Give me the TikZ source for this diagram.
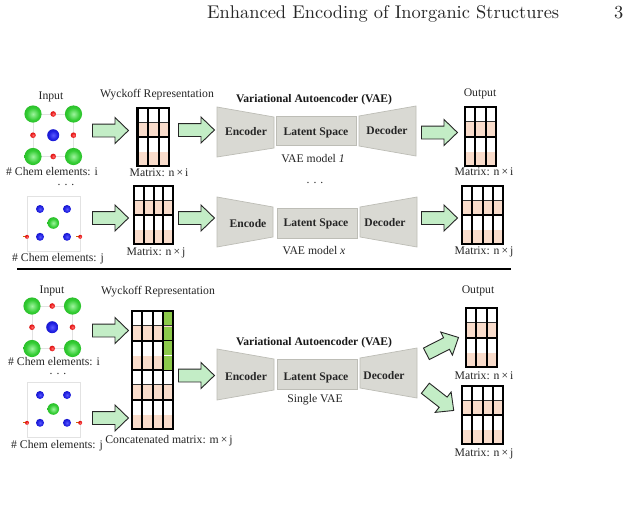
\documentclass[tikz,border=0pt]{standalone}
\usepackage{fontspec}
\setmainfont{Liberation Serif}
\newfontfamily\headfont[Extension=.otf]{lmroman10-regular}
\usetikzlibrary{shapes.arrows}

\definecolor{peach}{HTML}{F9DCCB}
\definecolor{limecell}{HTML}{8CC94A}
\definecolor{arrowfill}{HTML}{C3EDC6}
\definecolor{blockfill}{HTML}{D9D9D3}
\definecolor{blockedge}{HTML}{BDBDB6}
\definecolor{framegrey}{HTML}{E2E2E2}

% Sphere shadings for the three atom species
\pgfdeclareradialshading{greenball}{\pgfpointorigin}{%
  rgb(0bp)=(0.62,0.96,0.62); rgb(18bp)=(0.2,0.8,0.2);
  rgb(40bp)=(0.1,0.66,0.1); rgb(50bp)=(0.05,0.45,0.05)}
\pgfdeclareradialshading{blueball}{\pgfpointorigin}{%
  rgb(0bp)=(0.35,0.35,1); rgb(18bp)=(0.12,0.12,0.88);
  rgb(40bp)=(0.06,0.06,0.7); rgb(50bp)=(0.04,0.04,0.5)}
\pgfdeclareradialshading{redball}{\pgfpointorigin}{%
  rgb(0bp)=(1,0.45,0.45); rgb(18bp)=(0.92,0.1,0.1);
  rgb(40bp)=(0.8,0.05,0.05); rgb(50bp)=(0.6,0.02,0.02)}

\newcommand{\shaftstrut}{\rule{0pt}{12pt}}

\tikzset{
  x=1pt, y=-1pt,
  label text/.style={font=\fontsize{11.7}{12}\selectfont, inner sep=0pt, text=black!85, yshift=-1.3pt},
  dots text/.style={font=\fontsize{11.7}{12}\selectfont, inner sep=0pt, text=black!85, text height=1.5pt, text depth=0pt},
  title text/.style={font=\fontsize{11.6}{12}\selectfont\bfseries, inner sep=0pt, text=black!90, yshift=-1.3pt},
  block text/.style={font=\fontsize{11.6}{12}\selectfont\bfseries, inner sep=0pt, text=black!85, yshift=-1pt},
  head text/.style={font=\headfont\fontsize{18.4}{20}\selectfont, inner sep=0pt, text=black!85},
  blockshape/.style={fill=blockfill, draw=blockedge, line width=0.7pt, line join=miter},
  blockarrow/.style={single arrow, anchor=tail, draw=black!85, fill=arrowfill, line width=0.9pt,
    minimum height=36pt, inner sep=0pt,
    single arrow head extend=6.5pt, single arrow tip angle=88, single arrow head indent=0pt},
  gridline/.style={line width=2pt, draw=black},
  thingrid/.style={line width=0.8pt, draw=black!80},
  softgrid/.style={line width=0.6pt, draw=white},
  outerbox/.style={draw=black, line width=2.2pt, inner sep=0pt, fill=none},
  greenatom/.style={shading=greenball},
  blueatom/.style={shading=blueball},
  redatom/.style={shading=redball},
}

% Wyckoff matrix: #1 name, #2 left, #3 top, #4 right, #5 bottom, #6 columns, #7 rows
\newcommand{\wyckoffgrid}[7]{
  \pgfmathsetmacro{\cellw}{(#4-#2)/#6}
  \pgfmathsetmacro{\cellh}{(#5-#3)/#7}
  \fill[white] (#2,#3) rectangle (#4,#5);
  \foreach \r in {1,3,...,#7} {
    \fill[peach] (#2,{#3+\r*\cellh}) rectangle (#4,{#3+(\r+1)*\cellh});
  }
  \foreach \r/\sty in {1/thingrid,3/softgrid,5/thingrid,7/softgrid} {
    \ifnum\r<#7 \draw[\sty] (#2,{#3+\r*\cellh}) -- (#4,{#3+\r*\cellh}); \fi
  }
  \foreach \r in {2,4,...,#7} {
    \ifnum\r<#7 \draw[gridline] (#2,{#3+\r*\cellh}) -- (#4,{#3+\r*\cellh}); \fi
  }
  \foreach \c in {1,...,#6} {
    \ifnum\c<#6 \draw[gridline] ({#2+\c*\cellw},#3) -- ({#2+\c*\cellw},#5); \fi
  }
  \node[outerbox, minimum width={(#4-#2)*1pt}, minimum height={(#5-#3)*1pt}]
    (#1) at ({(#2+#4)/2},{(#3+#5)/2}) {};
}

% Rock-salt style cell with corner, centre and edge atoms
\newcommand{\cellA}[2]{
  \begin{scope}[shift={(#1,#2)}]
    \draw[framegrey, line width=1pt] (0,0) rectangle (40.5,42.5);
    \foreach \px/\py in {0/0,40.5/0,0/42.5,40.5/42.5}
      \shade[greenatom] (\px,\py) circle (8.6);
    \shade[blueatom] (20.2,21.2) circle (6);
    \foreach \px/\py in {20.2/0,0/21.2,40.5/21.2,20.2/42.5}
      \shade[redatom] (\px,\py) circle (2.8);
  \end{scope}
}

% Cell with a light frame, four blue atoms, a green centre and two red ligands
\newcommand{\cellB}[2]{
  \begin{scope}[shift={(#1,#2)}]
    \draw[framegrey, line width=0.7pt] (0,0) rectangle (53.5,55);
    \foreach \px/\py in {13/13,40/13,13/40.8,40/40.8}
      \shade[blueatom] (\px,\py) circle (4);
    \shade[greenatom] (26.3,27) circle (5.8);
    \draw[orange!80!black, line width=1pt] (-4,40.8) -- (0,40.8);
    \draw[orange!80!black, line width=1pt] (49,40.8) -- (53,40.8);
    \shade[redatom] (0,40.8) circle (2);
    \shade[redatom] (53.2,40.8) circle (2);
  \end{scope}
}

\begin{document}
\begin{tikzpicture}
\useasboundingbox (0,0) rectangle (630,520);
\fill[white] (0,0) rectangle (630,520);

% Running head
\node[head text, anchor=base west] (headline) at (207,18) {Enhanced Encoding of Inorganic Structures};
\node[head text, anchor=base west] (pageno) at (614,18) {3};

% Upper panel: one model per element count
\node[label text] (inA) at (51,96) {Input};
\node[label text] (wyA) at (157,93) {Wyckoff Representation};
\node[title text] (vaeA) at (314,98) {Variational Autoencoder (VAE)};
\node[label text] (outA) at (480,93) {Output};

\cellA{33}{114}
\node[label text] (chemA) at (52,170) {\# Chem elements: i};
\node[dots text] (dotsA) at (66,185) {. . .};
\cellB{27}{196}
\node[label text] (chemB) at (58,257) {\# Chem elements: j};

\wyckoffgrid{mA}{137.5}{108}{169}{166}{3}{4}
\wyckoffgrid{mB}{134}{186}{173}{244}{4}{4}
\node[label text] (mAl) at (159,171) {Matrix: n\,×\,i};
\node[label text] (mBl) at (156,252) {Matrix: n\,×\,j};

\node[blockarrow] (a1) at (92,130.5) {\shaftstrut};
\node[blockarrow] (a2) at (178,130) {\shaftstrut};
\node[blockarrow] (a3) at (421,132.5) {\shaftstrut};
\node[blockarrow] (a4) at (92,218) {\shaftstrut};
\node[blockarrow] (a5) at (178,218) {\shaftstrut};
\node[blockarrow] (a6) at (421,218) {\shaftstrut};

\draw[blockshape] (217,107) -- (274,117) -- (274,148) -- (217,157) -- cycle;
\draw[blockshape] (276,116) rectangle (356,145);
\draw[blockshape] (359,116) -- (416,106) -- (416,156) -- (359,146) -- cycle;
\node[block text] (encA) at (246,131) {Encoder};
\node[block text] (latA) at (316,132) {Latent Space};
\node[block text] (decA) at (387,130) {Decoder};
\node[label text] (modA) at (313,157) {VAE model \textit{1}};
\node[dots text] (dotsB) at (315,183) {. . .};

\draw[blockshape] (217,197) -- (273,207) -- (273,237) -- (217,247) -- cycle;
\draw[blockshape] (277,208) rectangle (357,238);
\draw[blockshape] (360,207) -- (417,197) -- (417,247) -- (360,237) -- cycle;
\node[block text] (encB) at (248,223) {Encode};
\node[block text] (latB) at (316,223) {Latent Space};
\node[block text] (decB) at (385,222) {Decoder};
\node[label text] (modB) at (314,249) {VAE model \textit{x}};

\wyckoffgrid{oA}{465}{107}{496}{166}{3}{4}
\wyckoffgrid{oB}{462}{186}{503}{244}{4}{4}
\node[label text] (oAl) at (484,170.5) {Matrix: n\,×\,i};
\node[label text] (oBl) at (484,250.5) {Matrix: n\,×\,j};

% Panel divider
\coordinate (ruleL) at (17,269);
\coordinate (ruleR) at (511,269);
\draw[black, line width=1.6pt] (ruleL) -- (ruleR);

% Lower panel: a single model on concatenated matrices
\node[label text] (inC) at (52,290) {Input};
\node[label text] (wyC) at (158,290) {Wyckoff Representation};
\cellA{32}{306}
\node[label text] (chemC) at (54,360) {\# Chem elements: i};
\node[dots text] (dotsC) at (58,374) {. . .};
\cellB{27}{382}
\node[label text] (chemD) at (57,444) {\# Chem elements: j};

\wyckoffgrid{mC}{132}{311}{173}{429}{4}{8}
\foreach \r in {0,1,2,3}
  \fill[limecell] (163.5,{311+\r*14.75+0.9}) rectangle (172,{311+(\r+1)*14.75-0.5});
\node[label text] (mCl) at (169,439) {Concatenated matrix: m\,×\,j};

\node[blockarrow] (b1) at (92,330.5) {\shaftstrut};
\node[blockarrow] (b2) at (92,418) {\shaftstrut};
\node[blockarrow] (b3) at (178,375.5) {\shaftstrut};

\node[title text] (vaeC) at (314,341) {Variational Autoencoder (VAE)};
\draw[blockshape] (217,349) -- (274,359) -- (274,390) -- (217,400) -- cycle;
\draw[blockshape] (277,359) rectangle (357,389);
\draw[blockshape] (360,358) -- (417,348) -- (417,398) -- (360,388) -- cycle;
\node[block text] (encC) at (246,376) {Encoder};
\node[block text] (latC) at (316,377) {Latent Space};
\node[block text] (decC) at (384,375) {Decoder};
\node[label text] (modC) at (315,398) {Single VAE};

\node[label text] (outC) at (478,290) {Output};
\node[blockarrow, rotate=27] (b4) at (426,354) {\shaftstrut};
\node[blockarrow, rotate=-38] (b5) at (425,388) {\shaftstrut};
\wyckoffgrid{oC}{466}{308}{497}{367}{3}{4}
\wyckoffgrid{oD}{462}{386}{503}{444}{4}{4}
\node[label text] (oCl) at (484,374) {Matrix: n\,×\,i};
\node[label text] (oDl) at (484,453) {Matrix: n\,×\,j};
\end{tikzpicture}
\end{document}
